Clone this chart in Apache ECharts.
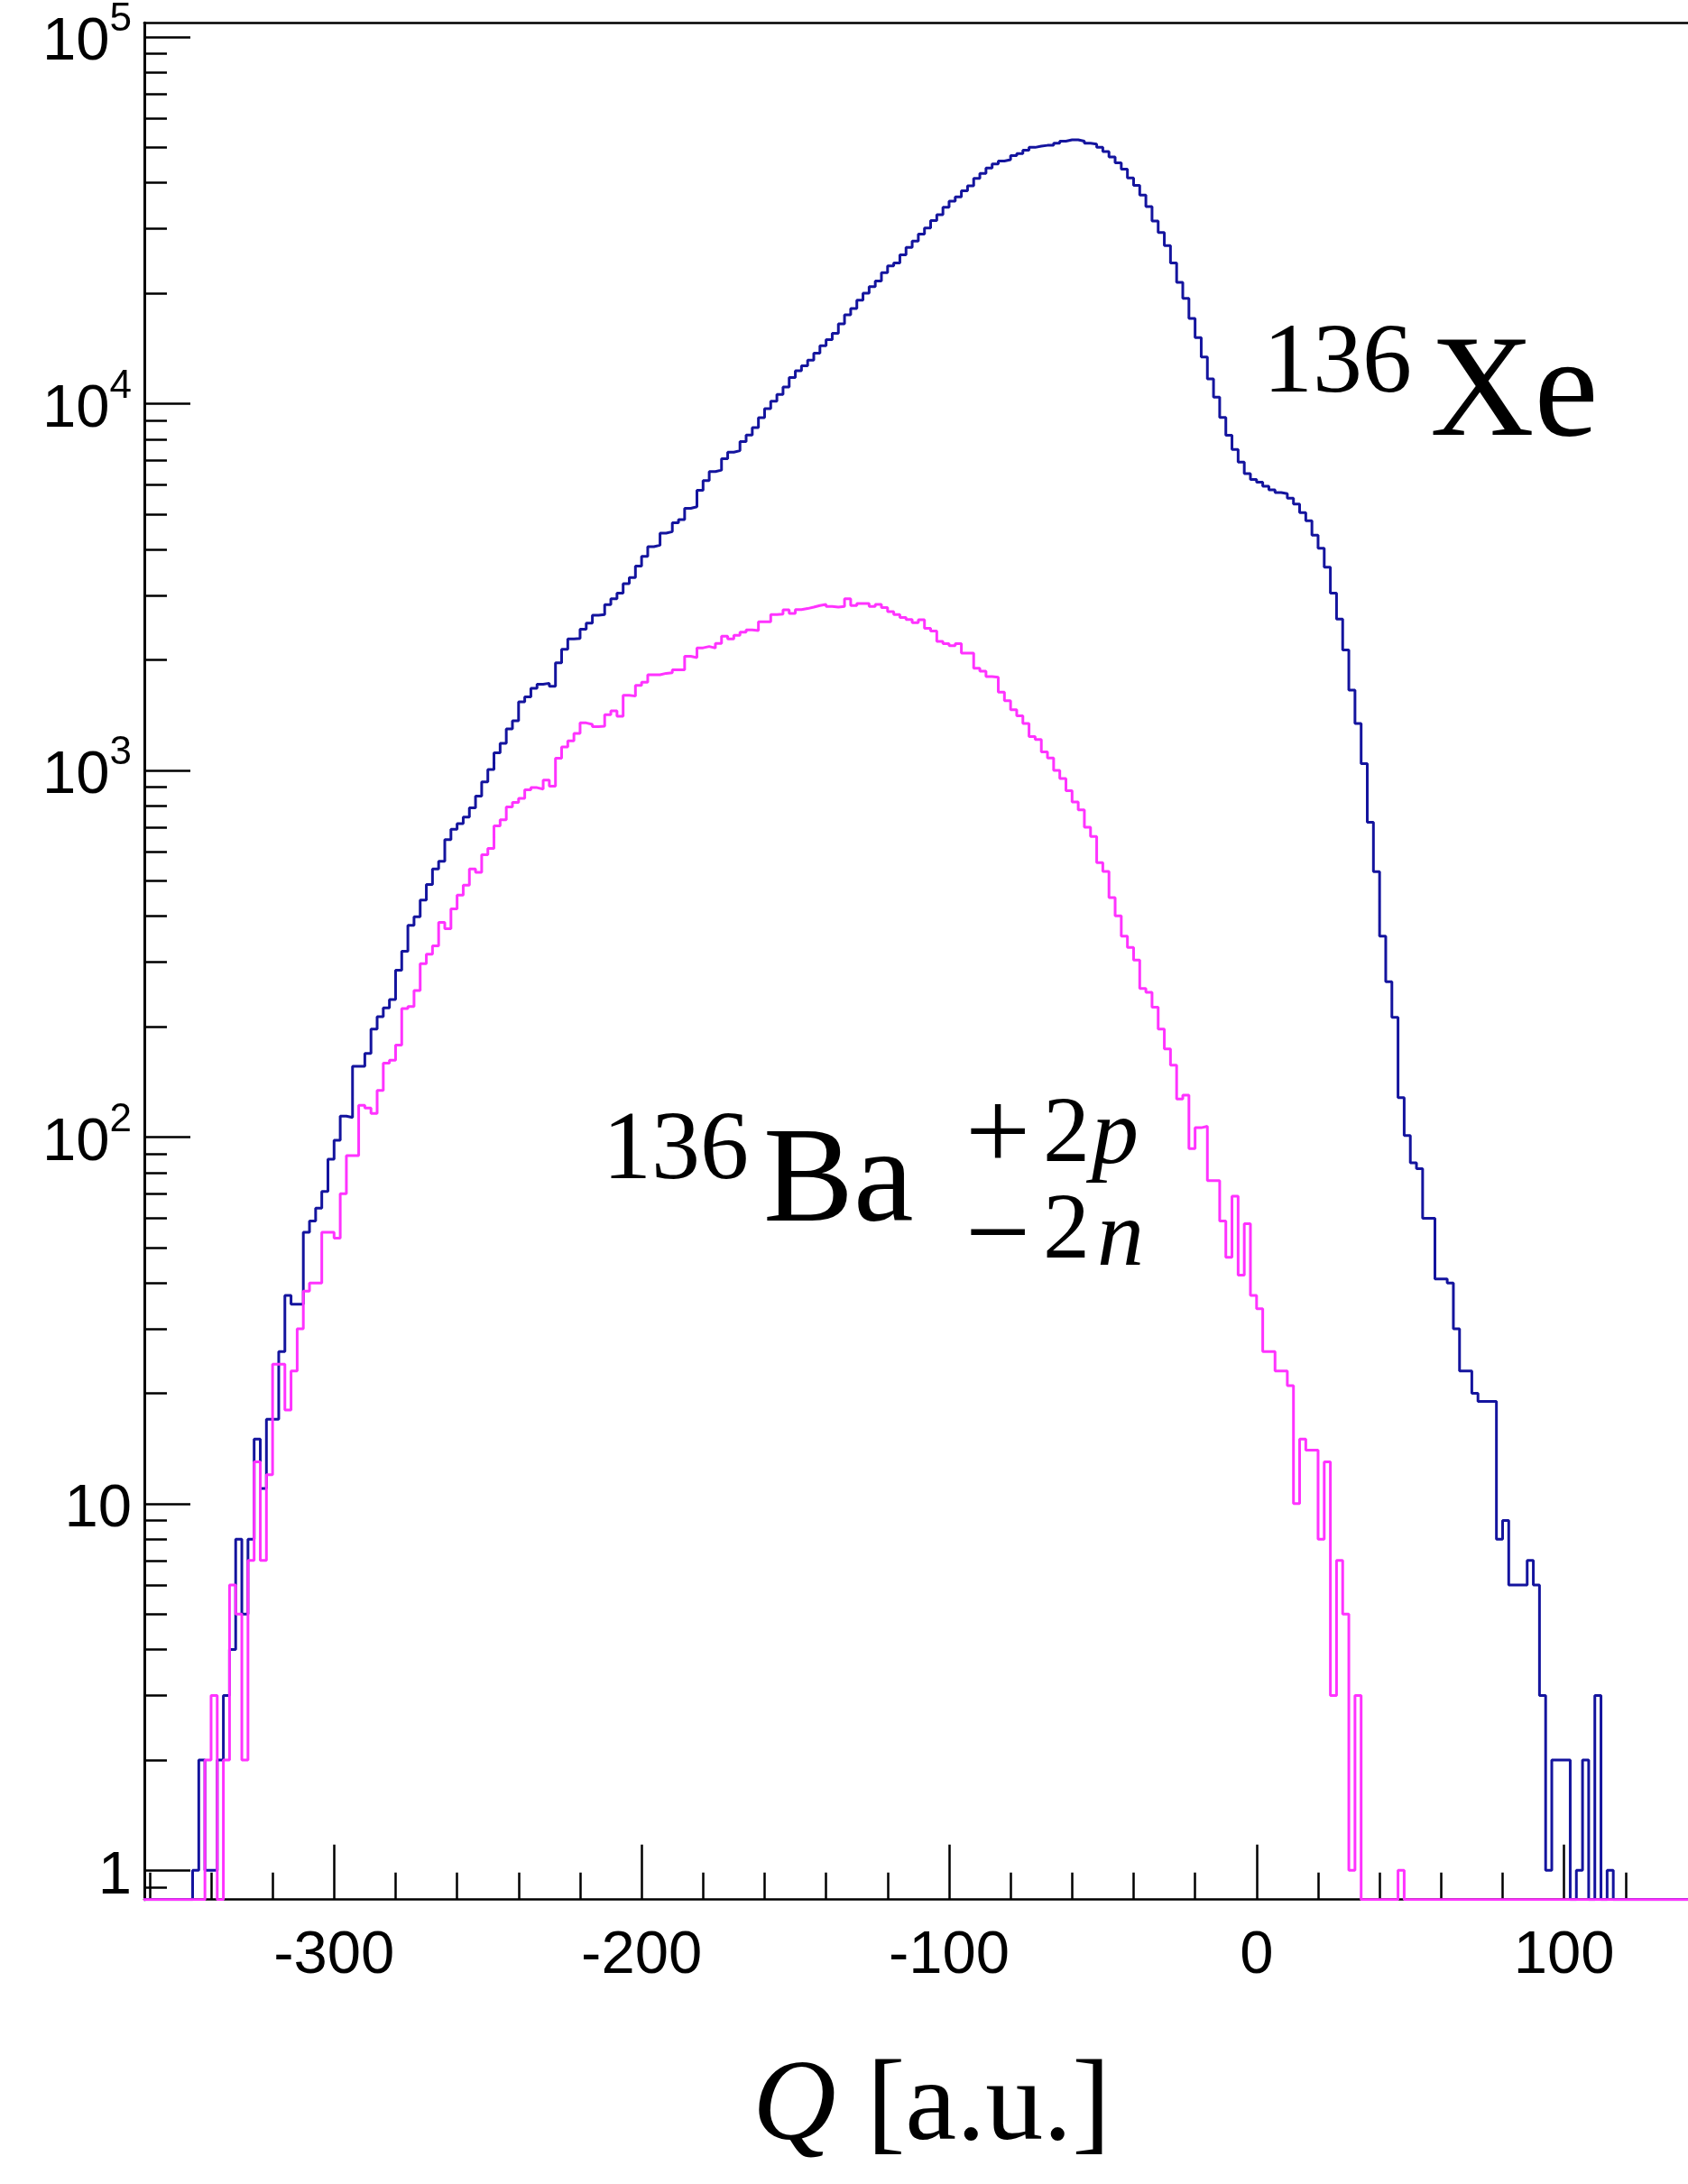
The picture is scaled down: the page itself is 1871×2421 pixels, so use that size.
<!DOCTYPE html>
<html><head><meta charset="utf-8">
<script src="https://cdn.jsdelivr.net/npm/echarts@6/dist/echarts.min.js"></script>
<style>html,body{margin:0;padding:0;background:#fff}#c{width:1871px;height:2421px}</style>
</head><body><div id="c"></div>
<script>
// Histogram binning (lower edge of first bin, bin width) in Q [a.u.]
const BIN_START = -348;
const BIN_WIDTH = 2;

// 136Xe counts per bin, starting at Q = -348
const xeCounts = [
  0,1,2,1,1,2,3,4,8,5,
  8,15,11,17,17,26,37,35,35,55,
  59,64,71,87,98,114,113,156,156,169,
  197,213,225,237,285,321,378,399,443,488,
  538,565,647,691,716,746,790,850,930,1006,
  1116,1185,1297,1365,1537,1587,1673,1718,1728,1696,
  1963,2138,2284,2290,2426,2519,2650,2660,2830,2939,
  3041,3231,3355,3604,3835,4074,4111,4436,4476,4736,
  4828,5184,5234,5803,6166,6526,6588,7073,7377,7443,
  7877,8212,8609,9162,9694,10160,10600,11100,11776,12303,
  12692,13134,13729,14378,14950,15543,16503,17473,18170,19140,
  20000,20840,21610,22770,23740,24180,25470,26680,27740,28990,
  30130,31590,32760,34330,35690,36620,38070,39290,41170,42460,
  43930,45080,45900,46260,47480,48110,49090,50000,50380,50640,
  50640,51290,51990,52400,52400,51990,51290,51050,50000,48730,
  47100,45400,43590,41280,39380,37060,34460,31500,29310,26980,
  24200,21420,19360,17070,15150,13400,11680,10410,9174,8204,
  7499,6924,6447,6216,6105,5954,5824,5720,5681,5520,
  5323,5043,4795,4380,4033,3579,3043,2587,2130,1654,
  1343,1043,722,529,353,265,212,128,101,85,
  82,60,60,41,41,40,30,23,23,20,
  19,19,19,8,9,6,6,6,7,6,
  3,1,2,2,2,0,1,2,0,3,
  0,1,0,0
];

// 136Ba (+2p -2n) counts per bin, starting at Q = -348
const baCounts = [
  0,0,0,2,3,0,2,6,5,2,
  7,13,7,12,24,24,18,23,30,38,
  40,40,55,55,53,70,89,89,122,120,
  116,134,159,162,178,224,227,251,297,315,
  332,385,370,419,457,486,538,527,589,612,
  706,733,795,818,839,885,897,889,940,905,
  1079,1158,1203,1261,1347,1334,1315,1320,1418,1452,
  1404,1602,1594,1706,1738,1822,1822,1839,1845,1881,
  1881,2047,2030,2158,2177,2155,2220,2323,2284,2336,
  2382,2417,2405,2542,2542,2658,2668,2742,2680,2744,
  2762,2786,2815,2836,2800,2786,2800,2935,2815,2852,
  2852,2800,2836,2781,2709,2660,2612,2579,2526,2573,
  2441,2397,2246,2217,2188,2217,2089,2089,1898,1863,
  1802,1795,1633,1549,1464,1408,1343,1236,1214,1123,
  1080,1000,950,880,820,780,700,660,560,530,
  450,401,353,329,304,254,248,226,197,174,
  157,127,130,93,106,107,76,76,59,47,
  69,42,58,37,34,26,26,23,23,21,
  10,15,14,14,8,13,3,7,5,1,
  3,0,0,0,0,0,0,1,0,0
];

// Axis ranges and ticks
const X_MIN = -361.7, X_MAX = 140.3;
const Y_MIN = 0.8325, Y_MAX = 109400;
const xMajorTicks = [-300, -200, -100, 0, 100];
const xMinorTicks = [-360,-340,-320,-280,-260,-240,-220,-180,-160,-140,-120,-80,-60,-40,-20,20,40,60,80,120];
const yMajorTicks = [1, 10, 100, 1000, 10000, 100000];
const yMinorTicks = (function(){
  const t = [0.9];
  for (let d = 1; d <= 10000; d *= 10) for (let m = 2; m <= 9; m++) t.push(m * d);
  return t;
})();

function stepData(counts) {
  const pts = [];
  for (let e = -362; e < BIN_START; e += BIN_WIDTH) pts.push([e, Y_MIN]);
  counts.forEach((c, i) => pts.push([BIN_START + i * BIN_WIDTH, c > 0 ? c : Y_MIN]));
  for (let e = BIN_START + counts.length * BIN_WIDTH; e <= 142; e += BIN_WIDTH) pts.push([e, Y_MIN]);
  return pts;
}

const SANS = 'Liberation Sans';
const SERIF = 'Liberation Serif';

const chart = echarts.init(document.getElementById('c'), null, {renderer: 'canvas'});
chart.setOption({
  animation: false,
  backgroundColor: '#fff',
  grid: {left: 160, right: -3, top: 21.5, bottom: 315.3, containLabel: false},
  xAxis: [
    {
      type: 'value', min: X_MIN, max: X_MAX, position: 'bottom',
      axisLine: {show: true, onZero: false, lineStyle: {color: '#000', width: 2.7}},
      axisTick: {show: true, inside: true, length: 61, customValues: xMajorTicks, lineStyle: {color: '#000', width: 2.5}},
      axisLabel: {show: true, customValues: xMajorTicks, margin: 29, fontSize: 67, lineHeight: 67, fontFamily: SANS, color: '#000',
        formatter: v => String(v)},
      splitLine: {show: false},
      name: '{q|Q}{t|[a.u.]}', nameLocation: 'middle', nameGap: 168,
      nameTextStyle: {padding: [0, 0, 0, 34], rich: {
        q: {fontFamily: SERIF, fontStyle: 'italic', fontSize: 128, color: '#000', lineHeight: 128, padding: [0, 34, 0, 0]},
        t: {fontFamily: SERIF, fontSize: 128, color: '#000', lineHeight: 128}
      }}
    },
    {
      type: 'value', min: X_MIN, max: X_MAX, position: 'bottom',
      axisLine: {show: false, onZero: false},
      axisTick: {show: true, inside: true, length: 30, customValues: xMinorTicks, lineStyle: {color: '#000', width: 2.5}},
      axisLabel: {show: false}, splitLine: {show: false}
    },
    {
      type: 'value', min: X_MIN, max: X_MAX, position: 'top',
      axisLine: {show: true, onZero: false, lineStyle: {color: '#000', width: 2.7}},
      axisTick: {show: false}, axisLabel: {show: false}, splitLine: {show: false}
    }
  ],
  yAxis: [
    {
      type: 'log', logBase: 10, min: Y_MIN, max: Y_MAX, position: 'left',
      axisLine: {show: true, onZero: false, lineStyle: {color: '#000', width: 3}},
      axisTick: {show: true, inside: true, length: 51, customValues: yMajorTicks, lineStyle: {color: '#000', width: 2.5}},
      axisLabel: {
        show: true, customValues: yMajorTicks, margin: 14, padding: [14, 0, 0, 0],
        formatter: v => {
          const e = Math.round(Math.log10(v));
          if (e === 0) return '{b|1}';
          if (e === 1) return '{b|10}';
          return '{b|10}{s|' + e + '}';
        },
        rich: {
          b: {fontFamily: SANS, fontSize: 67, color: '#000', lineHeight: 96},
          s: {fontFamily: SANS, fontSize: 44, color: '#000', lineHeight: 48, verticalAlign: 'top'}
        }
      },
      splitLine: {show: false}
    },
    {
      type: 'log', logBase: 10, min: Y_MIN, max: Y_MAX, position: 'left',
      axisLine: {show: false, onZero: false},
      axisTick: {show: true, inside: true, length: 25, customValues: yMinorTicks, lineStyle: {color: '#000', width: 2.5}},
      axisLabel: {show: false}, splitLine: {show: false}
    }
  ],
  series: [
    {
      name: '136Xe', type: 'line', step: 'end', xAxisIndex: 0, yAxisIndex: 0,
      data: stepData(xeCounts), showSymbol: false, symbol: 'none', clip: true,
      lineStyle: {color: '#14149e', width: 3}, z: 3
    },
    {
      name: '136Ba', type: 'line', step: 'end', xAxisIndex: 0, yAxisIndex: 0,
      data: stepData(baCounts), showSymbol: false, symbol: 'none', clip: true,
      lineStyle: {color: '#ff33ff', width: 3}, z: 4
    }
  ],
  graphic: [
    {type: 'text', x: 1400, y: 405, style: {text: '136', font: '110px "Liberation Serif"', fill: '#000', textAlign: 'left', textVerticalAlign: 'middle'}},
    {type: 'text', x: 1585, y: 440, style: {text: 'Xe', font: '160px "Liberation Serif"', fill: '#000', textAlign: 'left', textVerticalAlign: 'middle'}},
    {type: 'text', x: 668, y: 1278, style: {text: '136', font: '108px "Liberation Serif"', fill: '#000', textAlign: 'left', textVerticalAlign: 'middle'}},
    {type: 'text', x: 846, y: 1314, style: {text: 'Ba', font: '150px "Liberation Serif"', fill: '#000', textAlign: 'left', textVerticalAlign: 'middle'}},
    {type: 'text', x: 1070, y: 1262, style: {text: '+', font: '128px "Liberation Serif"', fill: '#000', textAlign: 'left', textVerticalAlign: 'middle'}},
    {type: 'text', x: 1156, y: 1260, style: {text: '2', font: '104px "Liberation Serif"', fill: '#000', textAlign: 'left', textVerticalAlign: 'middle'}},
    {type: 'text', x: 1210, y: 1262, style: {text: 'p', font: 'italic 104px "Liberation Serif"', fill: '#000', textAlign: 'left', textVerticalAlign: 'middle'}},
    {type: 'text', x: 1070, y: 1374, style: {text: '\u2212', font: '128px "Liberation Serif"', fill: '#000', textAlign: 'left', textVerticalAlign: 'middle'}},
    {type: 'text', x: 1156, y: 1367, style: {text: '2', font: '104px "Liberation Serif"', fill: '#000', textAlign: 'left', textVerticalAlign: 'middle'}},
    {type: 'text', x: 1216, y: 1375, style: {text: 'n', font: 'italic 104px "Liberation Serif"', fill: '#000', textAlign: 'left', textVerticalAlign: 'middle'}}
  ]
});
</script>
</body></html>
